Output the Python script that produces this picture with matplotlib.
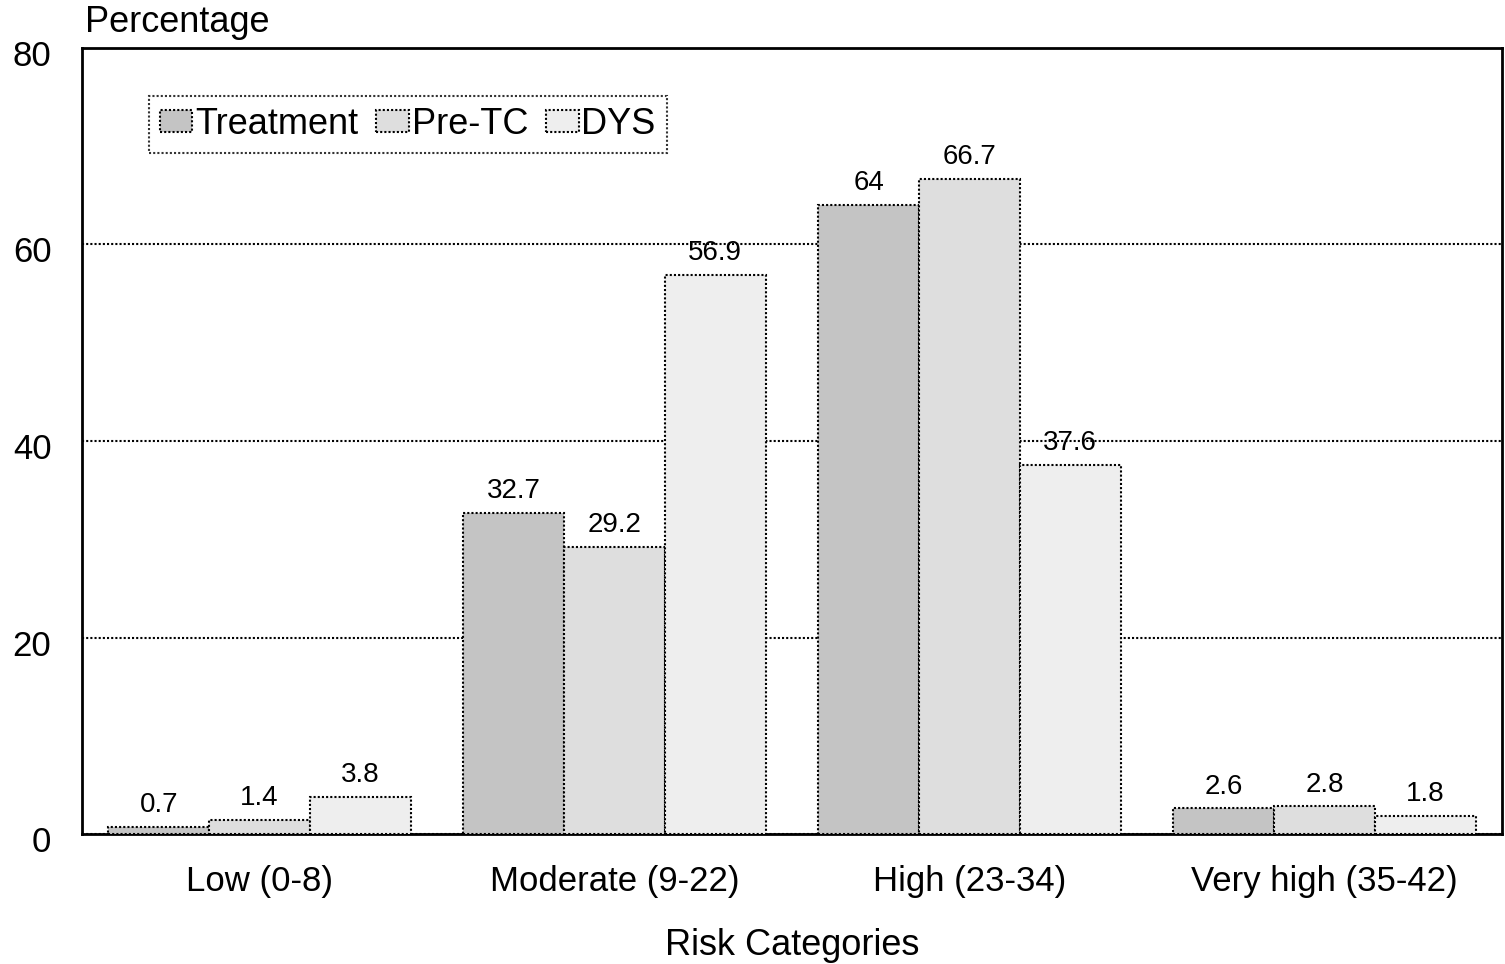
import matplotlib
matplotlib.use("Agg")
import matplotlib.pyplot as plt
import matplotlib.transforms as mtransforms
import numpy as np

categories = ["Low (0-8)", "Moderate (9-22)", "High (23-34)", "Very high (35-42)"]
series_names = ["Treatment", "Pre-TC", "DYS"]
treatment = [0.7, 32.7, 64, 2.6]
pre_tc = [1.4, 29.2, 66.7, 2.8]
dys = [3.8, 56.9, 37.6, 1.8]
y_ticks = [0, 20, 40, 60, 80]

colors = ["#c4c4c4", "#dedede", "#eeeeee"]
font = ["Liberation Sans", "DejaVu Sans"]
plt.rcParams["font.family"] = font

fig = plt.figure(figsize=(15.05, 9.64), dpi=100)
ax = fig.add_axes([82 / 1505, 130 / 964, 1420 / 1505, 786 / 964])

dotted = (0, (1, 1))
x = np.arange(len(categories))
width = 0.284
for i, (vals, name) in enumerate(zip([treatment, pre_tc, dys], series_names)):
    bars = ax.bar(x + (i - 1) * width, vals, width, color=colors[i],
                  edgecolor="black", linewidth=1.5, linestyle=dotted,
                  label=name, zorder=3)
    for rect, v in zip(bars, vals):
        ax.text(rect.get_x() + rect.get_width() / 2, v + 0.9, f"{v:g}",
                ha="center", va="bottom", fontsize=20, zorder=4)

ax.set_xlim(-0.5, 3.5)
ax.set_ylim(0, 80)
ax.set_yticks(y_ticks)
ax.set_xticks(x)
ax.set_xticklabels(categories)
ax.tick_params(axis="both", length=0, labelsize=25)
ax.tick_params(axis="y", pad=22)
ax.tick_params(axis="x", pad=22)

# nudge the y tick labels slightly below their gridlines
shift = mtransforms.ScaledTranslation(0, -5 / 100, fig.dpi_scale_trans)
for lbl in ax.get_yticklabels():
    lbl.set_transform(lbl.get_transform() + shift)

ax.yaxis.grid(True, color="black", linestyle=dotted, linewidth=1.5, zorder=0)
ax.set_axisbelow(True)

ax.spines["top"].set_linewidth(2)
ax.spines["bottom"].set_linewidth(2)
for side in ["left", "right"]:
    ax.spines[side].set_linestyle(dotted)
    ax.spines[side].set_linewidth(2)

ax.set_xlabel("Risk Categories", fontsize=26, labelpad=22)
fig.text(85 / 1505, 1 - 23 / 964, "Percentage", fontsize=26, ha="left", va="center")

leg = ax.legend(loc="upper left", bbox_to_anchor=(0.047, 0.939), ncol=3,
                fontsize=26, frameon=True, fancybox=False, handlelength=0.9,
                handleheight=0.58, handletextpad=0.08, columnspacing=0.5,
                borderpad=0.3, borderaxespad=0)
leg.get_frame().set_edgecolor("black")
leg.get_frame().set_linewidth(1.5)
leg.get_frame().set_linestyle(dotted)

fig.savefig("out.png", dpi=100)
